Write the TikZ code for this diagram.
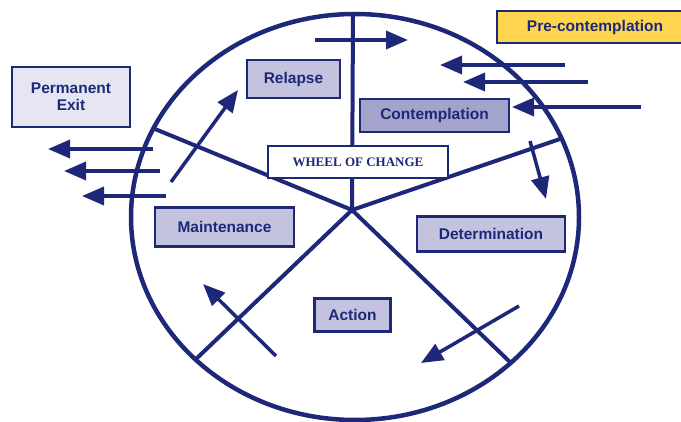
\documentclass[tikz,border=0pt]{standalone}
\usepackage{fontspec}
\setmainfont{Liberation Sans}
\newfontfamily\wheelfont{Liberation Serif}
\usetikzlibrary{arrows.meta}

\definecolor{navy}{HTML}{1E2878}
\definecolor{lavender}{HTML}{C3C3DF}
\definecolor{midlav}{HTML}{A3A3CC}
\definecolor{palelav}{HTML}{E6E6F2}
\definecolor{gold}{HTML}{FFD54F}

\tikzstyle{stage}=[rectangle, draw=navy, line width=2.5pt, fill=lavender, text=navy, inner sep=0pt, font=\bfseries\fontsize{15.5}{17}\selectfont]
\tikzstyle{spoke}=[draw=navy, line width=4pt]
\tikzstyle{flow}=[draw=navy, line width=3.5pt, -{Triangle[length=22pt,width=18pt]}]

\begin{document}
\begin{tikzpicture}[x=1pt,y=-1pt]
\clip (0,0) rectangle (681,422);

% wheel
\coordinate (hub) at (352,210);
\draw [spoke, line width=4.5pt] (355,217) ellipse [x radius=224, y radius=203];
\coordinate (s1) at (353,14);
\coordinate (s2) at (155,129);
\coordinate (s3) at (560,139);
\coordinate (s4) at (195,360);
\coordinate (s5) at (512,364);
\draw [spoke] (hub) -- (s1);
\draw [spoke] (hub) -- (s2);
\draw [spoke] (hub) -- (s3);
\draw [spoke] (hub) -- (s4);
\draw [spoke] (hub) -- (s5);

% stages
\node [stage, fill=palelav, align=center, minimum width=118, minimum height=60] (exit) at (71,97) {Permanent\\Exit};
\node [stage, minimum width=93, minimum height=38] (relapse) at (293.5,79) {Relapse};
\node [stage, fill=white, minimum width=180, minimum height=32, font=\wheelfont\bfseries\fontsize{13}{15}\selectfont] (wheel) at (358,162) {WHEEL OF CHANGE};
\node [stage, fill=midlav, minimum width=149, minimum height=33] (contemp) at (434.5,115.5) {Contemplation};
\node [stage, fill=gold, minimum width=196, minimum height=32] (precontemp) at (595,27) {Pre-contemplation};
\node [stage, minimum width=139, minimum height=39] (maint) at (224.5,227) {Maintenance};
\node [stage, minimum width=148, minimum height=35] (determ) at (491,234) {Determination};
\node [stage, minimum width=76, minimum height=33] (action) at (352.5,315) {Action};

% movement
\coordinate (a1) at (315,40);   \coordinate (b1) at (408,40);
\coordinate (a2) at (565,65);   \coordinate (b2) at (440,65);
\coordinate (a3) at (588,82);   \coordinate (b3) at (463,82);
\coordinate (a4) at (641,107);  \coordinate (b4) at (512,107);
\coordinate (a5) at (530,141);  \coordinate (b5) at (546,199);
\coordinate (a6) at (519,306);  \coordinate (b6) at (421,363);
\coordinate (a7) at (276,356);  \coordinate (b7) at (203,284);
\coordinate (a8) at (171,182);  \coordinate (b8) at (238,90);
\coordinate (a9) at (153,149);  \coordinate (b9) at (48,149);
\coordinate (a10) at (160,171); \coordinate (b10) at (64,171);
\coordinate (a11) at (166,196); \coordinate (b11) at (82,196);
\draw [flow] (a1) -- (b1);
\draw [flow] (a2) -- (b2);
\draw [flow] (a3) -- (b3);
\draw [flow] (a4) -- (b4);
\draw [flow] (a5) -- (b5);
\draw [flow] (a6) -- (b6);
\draw [flow] (a7) -- (b7);
\draw [flow] (a8) -- (b8);
\draw [flow] (a9) -- (b9);
\draw [flow] (a10) -- (b10);
\draw [flow] (a11) -- (b11);
\end{tikzpicture}
\end{document}
